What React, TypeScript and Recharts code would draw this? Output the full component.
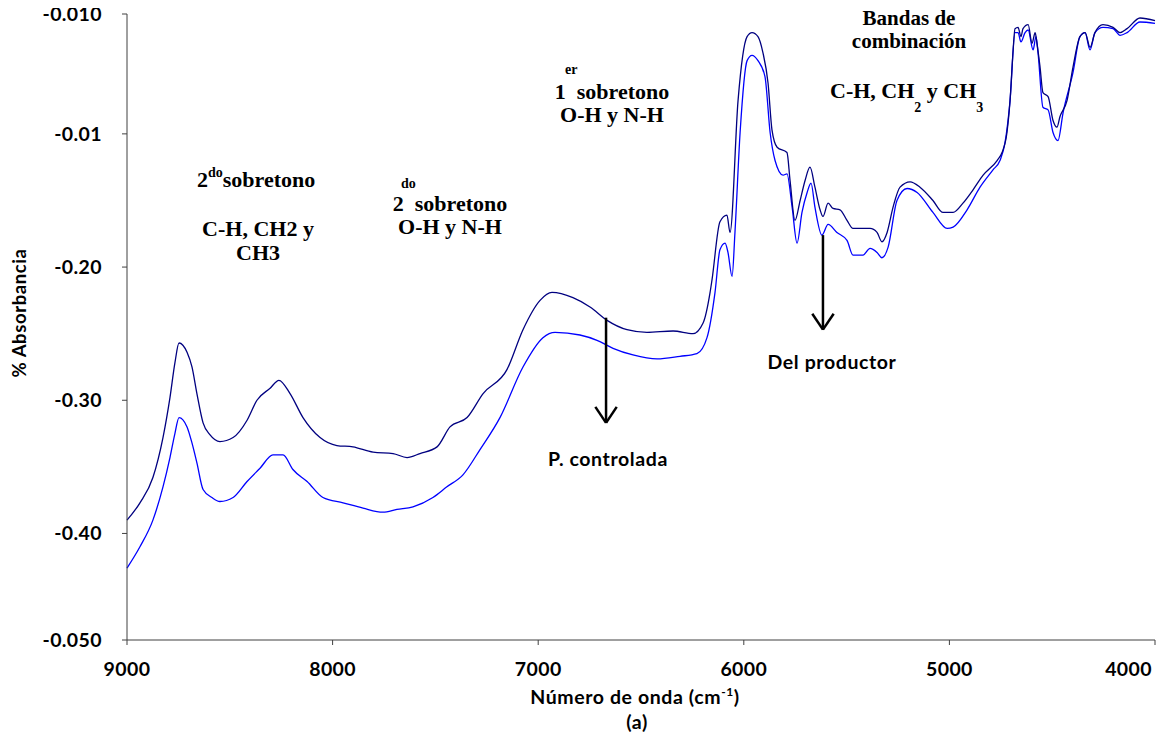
import React from 'react';
import { LineChart, Line, XAxis, YAxis, ReferenceLine } from 'recharts';

// Espectros NIR: numero de onda (cm-1) y absorbancia
const wnControlada = [
  9000, 8937, 8874, 8825, 8791, 8767, 8747, 8708, 8684, 8660, 8630, 8596, 8548, 8484, 8416, 8368, 8304, 8261,
  8207, 8144, 8061, 7979, 7901, 7803, 7706, 7638, 7575, 7492, 7429, 7346, 7268, 7152, 7074, 6991, 6933, 6831,
  6748, 6665, 6568, 6471, 6344, 6247, 6198, 6164, 6155, 6116, 6082, 6067, 6028, 5984, 5960, 5931, 5907, 5882,
  5863, 5838, 5790, 5775, 5751, 5726, 5702, 5678, 5654, 5629, 5615, 5590, 5566, 5532, 5498, 5469, 5386, 5352,
  5328, 5303, 5274, 5240, 5191, 5143, 5080, 5031, 4982, 4934, 4885, 4836, 4768, 4744, 4720, 4705, 4690, 4681,
  4666, 4652, 4642, 4617, 4598, 4583, 4574, 4559, 4545, 4520, 4496, 4477, 4462, 4428, 4399, 4365, 4340, 4316,
  4292, 4253, 4204, 4170, 4136, 4073, 4000,
];
const absControlada = [
  -0.39, -0.377, -0.358, -0.328, -0.298, -0.272, -0.257, -0.264, -0.275, -0.295, -0.317, -0.326, -0.331, -0.328,
  -0.315, -0.3, -0.291, -0.285, -0.295, -0.313, -0.328, -0.334, -0.335, -0.339, -0.34, -0.343, -0.34, -0.335,
  -0.32, -0.313, -0.295, -0.277, -0.247, -0.225, -0.219, -0.223, -0.23, -0.24, -0.247, -0.249, -0.248, -0.25,
  -0.242, -0.219, -0.21, -0.166, -0.161, -0.174, -0.075, -0.027, -0.024, -0.027, -0.039, -0.062, -0.097, -0.11,
  -0.114, -0.135, -0.165, -0.15, -0.135, -0.125, -0.14, -0.157, -0.162, -0.152, -0.156, -0.157, -0.165, -0.171,
  -0.171, -0.174, -0.181, -0.174, -0.155, -0.14, -0.136, -0.14, -0.15, -0.159, -0.159, -0.152, -0.142, -0.131,
  -0.12, -0.114, -0.099, -0.075, -0.037, -0.021, -0.02, -0.027, -0.021, -0.018, -0.032, -0.024, -0.032, -0.05,
  -0.069, -0.072, -0.09, -0.095, -0.087, -0.075, -0.05, -0.027, -0.024, -0.035, -0.024, -0.018, -0.02, -0.024,
  -0.021, -0.013, -0.015,
];

const wnProductor = [
  9000, 8937, 8874, 8825, 8791, 8767, 8747, 8708, 8684, 8660, 8630, 8587, 8548, 8484, 8416, 8353, 8290, 8241,
  8193, 8124, 8047, 7949, 7852, 7755, 7687, 7609, 7512, 7444, 7366, 7283, 7186, 7074, 6977, 6918, 6797, 6714,
  6636, 6539, 6422, 6310, 6228, 6179, 6140, 6116, 6091, 6077, 6057, 6043, 6018, 5984, 5960, 5931, 5897, 5872,
  5848, 5809, 5790, 5765, 5741, 5717, 5692, 5673, 5654, 5620, 5590, 5547, 5498, 5469, 5420, 5386, 5352, 5328,
  5298, 5255, 5206, 5157, 5080, 5011, 4982, 4914, 4851, 4788, 4754, 4730, 4705, 4681, 4666, 4652, 4632, 4617,
  4593, 4579, 4569, 4545, 4520, 4496, 4472, 4447, 4399, 4365, 4340, 4316, 4292, 4253, 4204, 4170, 4136, 4073,
  4000,
];
const absProductor = [
  -0.426, -0.41, -0.39, -0.365, -0.343, -0.325, -0.313, -0.32, -0.332, -0.347, -0.367, -0.373, -0.376, -0.373,
  -0.361, -0.351, -0.341, -0.341, -0.352, -0.361, -0.373, -0.377, -0.381, -0.384, -0.382, -0.38, -0.373, -0.365,
  -0.356, -0.337, -0.313, -0.275, -0.253, -0.249, -0.251, -0.255, -0.261, -0.266, -0.269, -0.267, -0.265, -0.253,
  -0.219, -0.187, -0.182, -0.189, -0.207, -0.174, -0.099, -0.045, -0.041, -0.045, -0.057, -0.099, -0.12, -0.131,
  -0.13, -0.155, -0.182, -0.159, -0.144, -0.137, -0.155, -0.176, -0.168, -0.174, -0.18, -0.191, -0.191, -0.186,
  -0.189, -0.193, -0.185, -0.15, -0.141, -0.144, -0.159, -0.171, -0.17, -0.157, -0.14, -0.127, -0.12, -0.107,
  -0.075, -0.024, -0.024, -0.031, -0.024, -0.022, -0.037, -0.027, -0.039, -0.08, -0.082, -0.099, -0.105, -0.084,
  -0.054, -0.027, -0.024, -0.037, -0.024, -0.02, -0.021, -0.026, -0.024, -0.016, -0.017,
];

const xTicks = [9000, 8000, 7000, 6000, 5000, 4000];
const yTicks = [-0.01, -0.1, -0.2, -0.3, -0.4, -0.48];
const yTickLabels = ['-0.010', '-0.01', '-0.20', '-0.30', '-0.40', '-0.050'];

const controlada = wnControlada.map((w, i) => ({ w, a: absControlada[i] }));
const productor = wnProductor.map((w, i) => ({ w, a: absProductor[i] }));

const sans = 'Lato, "Open Sans", sans-serif';
const serif = '"Liberation Serif", "DejaVu Serif", serif';
const tickStyle = { fontFamily: sans, fontWeight: 700, fontSize: 19.5, fill: '#000', letterSpacing: 0.4 };

// la etiqueta 4000 va alineada a la derecha para no salirse
const XTick = ({ x, y, payload }: any) => {
  const last = payload.value === 4000;
  return (
    <text x={last ? x + 2 : x} y={y} dy="0.71em" textAnchor={last ? 'end' : 'middle'} {...tickStyle}>
      {payload.value}
    </text>
  );
};

// flecha: vastago + punta en coordenadas de datos
const Arrow = (w: number, y0: number, y1: number, yHead: number) => [
  <ReferenceLine key={'s' + w} segment={[{ x: w, y: y0 }, { x: w, y: y1 }]} stroke="#000" strokeWidth={2.5} />,
  <ReferenceLine key={'l' + w} segment={[{ x: w + 52, y: yHead }, { x: w, y: y1 }]} stroke="#000" strokeWidth={2.5} />,
  <ReferenceLine key={'r' + w} segment={[{ x: w - 52, y: yHead }, { x: w, y: y1 }]} stroke="#000" strokeWidth={2.5} />,
];

export default function App() {
  return (
    <div style={{ position: 'relative', width: 1166, height: 736, margin: '-8px 0 0 -8px' }}>
      <LineChart width={1166} height={736} margin={{ top: 14, right: 11, bottom: 36, left: 0 }}>
        <XAxis
          dataKey="w"
          type="number"
          domain={[4000, 9000]}
          reversed
          ticks={xTicks}
          tick={<XTick />}
          tickSize={5}
          tickMargin={17}
          height={60}
          stroke="#404040"
          allowDuplicatedCategory={false}
        />
        <YAxis
          type="number"
          domain={[-0.48, -0.01]}
          ticks={yTicks}
          tickFormatter={(v: number) => yTickLabels[yTicks.indexOf(v)] ?? ''}
          tick={tickStyle}
          tickSize={5}
          tickMargin={20}
          width={127}
          stroke="#404040"
          allowDataOverflow
        />
        <Line data={productor} dataKey="a" type="monotone" stroke="#0000ff" strokeWidth={1.3} dot={false} isAnimationActive={false} />
        <Line data={controlada} dataKey="a" type="monotone" stroke="#000080" strokeWidth={1.3} dot={false} isAnimationActive={false} />
        {Arrow(6670, -0.238, -0.317, -0.305)}
        {Arrow(5615, -0.176, -0.247, -0.235)}
      </LineChart>
      <svg width={1166} height={736} style={{ position: 'absolute', left: 0, top: 0, pointerEvents: 'none' }}>
        <g fontFamily={serif} fontWeight={700} fontSize={22} fill="#000">
          <text x={197} y={187}>
            2<tspan fontSize={14} dy={-10}>do</tspan>
            <tspan dy={10}>sobretono</tspan>
          </text>
          <text x={258} y={236} textAnchor="middle">C-H, CH2 y</text>
          <text x={258} y={260} textAnchor="middle">CH3</text>

          <text x={401} y={188} fontSize={14}>do</text>
          <text x={450} y={211} textAnchor="middle">2{'\u2002'}sobretono</text>
          <text x={450} y={234} textAnchor="middle">O-H y N-H</text>

          <text x={565} y={74} fontSize={14}>er</text>
          <text x={612} y={99} textAnchor="middle">1{'\u2002'}sobretono</text>
          <text x={612} y={122} textAnchor="middle">O-H y N-H</text>

          <text x={909} y={25} fontSize={21} textAnchor="middle">Bandas de</text>
          <text x={909} y={48} fontSize={21} textAnchor="middle">combinación</text>
          <text x={830} y={98}>
            C-H, CH<tspan fontSize={14} dy={14}>2</tspan>
            <tspan dy={-14}> y CH</tspan>
            <tspan fontSize={14} dy={14}>3</tspan>
          </text>
        </g>
        <g fontFamily={sans} fontWeight={700} fill="#000" letterSpacing={0.6}>
          <text x={608} y={466} fontSize={19.5} textAnchor="middle">P. controlada</text>
          <text x={832} y={369} fontSize={19.5} textAnchor="middle">Del productor</text>
          <text x={635} y={704} fontSize={19.5} textAnchor="middle">
            Número de onda (cm<tspan fontSize={12} dy={-8}>-1</tspan>
            <tspan dy={8}>)</tspan>
          </text>
          <text x={637} y={729} fontSize={19.5} textAnchor="middle">(a)</text>
          <text x={26} y={313} fontSize={18.5} textAnchor="middle" transform="rotate(-90 26 313)">% Absorbancia</text>
        </g>
      </svg>
    </div>
  );
}
